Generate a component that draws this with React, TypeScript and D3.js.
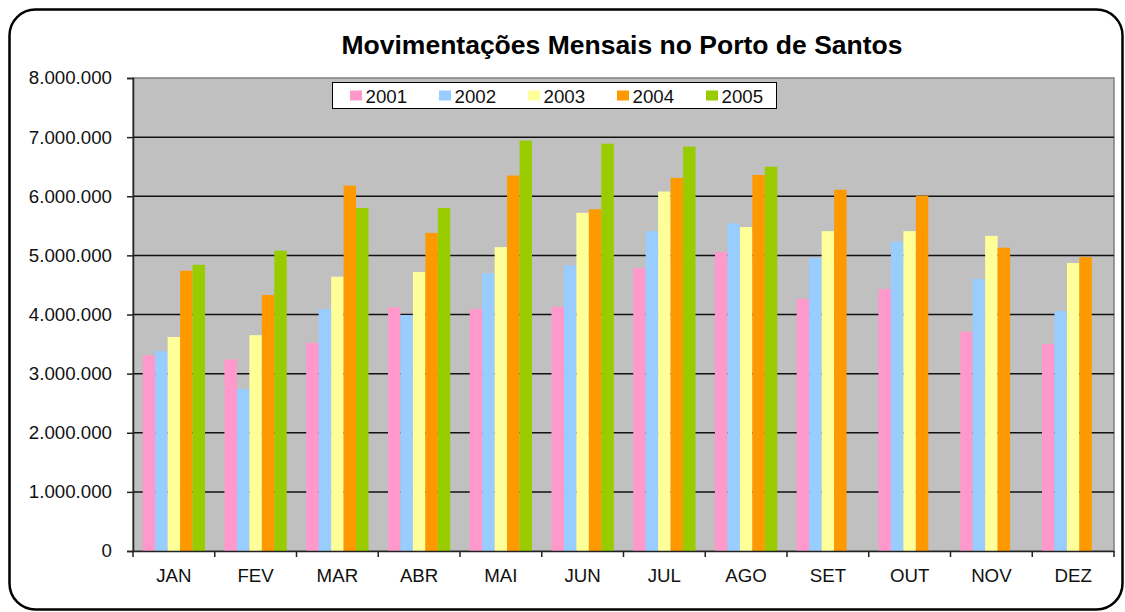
import React, { useEffect, useRef } from 'react'
import * as d3 from 'd3'

const months = ['JAN', 'FEV', 'MAR', 'ABR', 'MAI', 'JUN', 'JUL', 'AGO', 'SET', 'OUT', 'NOV', 'DEZ']
const years = ['2001', '2002', '2003', '2004', '2005']
const colors = ['#FF99CC', '#99CCFF', '#FFFF99', '#FF9900', '#99CC00']

const v2001 = [3310000, 3240000, 3520000, 4120000, 4090000, 4130000, 4790000, 5060000, 4260000, 4430000, 3710000, 3500000]
const v2002 = [3380000, 2740000, 4090000, 3990000, 4700000, 4830000, 5410000, 5540000, 4960000, 5230000, 4600000, 4060000]
const v2003 = [3620000, 3650000, 4640000, 4720000, 5140000, 5720000, 6080000, 5480000, 5410000, 5410000, 5330000, 4870000]
const v2004 = [4740000, 4330000, 6180000, 5380000, 6350000, 5780000, 6310000, 6360000, 6110000, 6010000, 5130000, 4970000]
const v2005 = [4840000, 5080000, 5800000, 5800000, 6940000, 6890000, 6840000, 6500000, null, null, null, null]

const series = [v2001, v2002, v2003, v2004, v2005]
const yTicks = [0, 1000000, 2000000, 3000000, 4000000, 5000000, 6000000, 7000000, 8000000]

const fmt = (n: number) => (n === 0 ? '0' : d3.format(',')(n).replace(/,/g, '.'))

const App = () => {
  const ref = useRef<SVGSVGElement>(null)

  useEffect(() => {
    const svg = d3.select(ref.current)
    svg.selectAll('*').remove()
    const left = 133
    const right = 1114
    const top = 78
    const bottom = 551
    const font = 'Arial, "Liberation Sans", sans-serif'
    const fs = 18.7

    // rounded frame
    svg
      .append('rect')
      .attr('x', 9.5)
      .attr('y', 9.5)
      .attr('width', 1113)
      .attr('height', 600)
      .attr('rx', 26)
      .attr('fill', 'white')
      .attr('stroke', 'black')
      .attr('stroke-width', 2.5)

    svg
      .append('text')
      .attr('x', 622)
      .attr('y', 54)
      .attr('text-anchor', 'middle')
      .attr('font-family', font)
      .attr('font-weight', 'bold')
      .attr('font-size', 26.5)
      .text('Movimentações Mensais no Porto de Santos')

    const x0 = d3.scaleBand().domain(months).range([left, right]).padding(0)
    const x1 = d3.scaleBand().domain(years).range([0, x0.bandwidth()]).paddingInner(0).paddingOuter(0.78)
    const y = d3.scaleLinear().domain([0, 8000000]).range([bottom, top])

    svg
      .append('rect')
      .attr('x', left)
      .attr('y', top)
      .attr('width', right - left)
      .attr('height', bottom - top)
      .attr('fill', '#C0C0C0')
      .attr('stroke', '#808080')
      .attr('stroke-width', 1.5)

    svg
      .append('g')
      .selectAll('line')
      .data(yTicks.slice(1, -1))
      .join('line')
      .attr('x1', left)
      .attr('x2', right)
      .attr('y1', (d) => y(d))
      .attr('y2', (d) => y(d))
      .attr('stroke', '#111')
      .attr('stroke-width', 1.5)

    const group = svg
      .append('g')
      .selectAll('g')
      .data(months)
      .join('g')
      .attr('transform', (d) => `translate(${x0(d)},0)`)

    group
      .selectAll('rect')
      .data((m, i) => series.map((s, k) => ({ year: years[k], value: s[i], color: colors[k] })).filter((d) => d.value != null))
      .join('rect')
      .attr('x', (d) => x1(d.year) as number)
      .attr('width', x1.bandwidth())
      .attr('y', (d) => y(d.value as number))
      .attr('height', (d) => bottom - y(d.value as number))
      .attr('fill', (d) => d.color)

    // axes
    const yAxis = svg
      .append('g')
      .attr('transform', `translate(${left},0)`)
      .call(d3.axisLeft(y).tickValues(yTicks).tickSize(6).tickPadding(15).tickFormat((d) => fmt(+d)))
    yAxis.select('.domain').attr('stroke', '#222').attr('stroke-width', 1.5)
    yAxis.selectAll('.tick line').attr('stroke', '#222').attr('stroke-width', 1.5)
    yAxis.selectAll('text').attr('font-family', font).attr('font-size', fs).attr('fill', '#111')

    const xAxis = svg
      .append('g')
      .attr('transform', `translate(0,${bottom})`)
      .call(d3.axisBottom(x0).tickSize(0).tickPadding(18))
    xAxis.select('.domain').attr('stroke', '#222').attr('stroke-width', 1.5)
    xAxis.selectAll('text').attr('font-family', font).attr('font-size', fs).attr('fill', '#111')

    svg
      .append('g')
      .selectAll('line')
      .data(months.concat(['end']))
      .join('line')
      .attr('x1', (d) => (d === 'end' ? right : (x0(d) as number)))
      .attr('x2', (d) => (d === 'end' ? right : (x0(d) as number)))
      .attr('y1', bottom)
      .attr('y2', bottom + 6)
      .attr('stroke', '#222')
      .attr('stroke-width', 1.5)

    // legend
    const legend = svg.append('g')
    legend
      .append('rect')
      .attr('x', 332.5)
      .attr('y', 82.5)
      .attr('width', 444)
      .attr('height', 26)
      .attr('fill', 'white')
      .attr('stroke', 'black')
      .attr('stroke-width', 1)
    const item = legend
      .selectAll('g')
      .data(years)
      .join('g')
      .attr('transform', (d, i) => `translate(${350 + i * 89},0)`)
    item
      .append('rect')
      .attr('y', 90.5)
      .attr('width', 12)
      .attr('height', 10)
      .attr('fill', (d, i) => colors[i])
    item
      .append('text')
      .attr('x', 15.5)
      .attr('y', 102.5)
      .attr('font-family', font)
      .attr('font-size', fs)
      .attr('fill', '#111')
      .text((d) => d)
  }, [])

  return <svg ref={ref} width={1125} height={612} style={{ position: 'absolute', left: 0, top: 0 }} />
}

export default App
